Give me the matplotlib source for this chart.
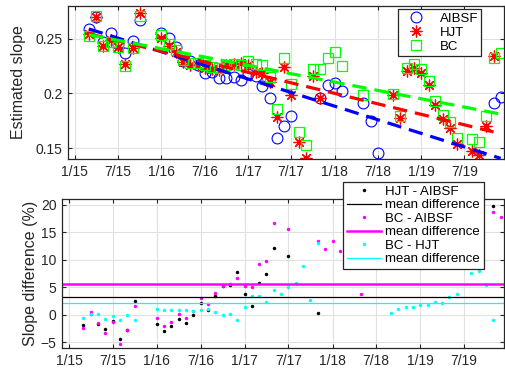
import matplotlib
matplotlib.use("Agg")
import matplotlib.pyplot as plt
import numpy as np
import pandas as pd
from matplotlib.lines import Line2D

plt.rcParams['font.family'] = ['Liberation Sans', 'DejaVu Sans']

# ---------------- data ----------------
aibsf_dates = ['2015-03', '2015-04', '2015-05', '2015-06', '2015-07', '2015-08', '2015-09', '2015-10',
               '2016-01', '2016-02', '2016-03', '2016-04', '2016-05', '2016-06', '2016-07', '2016-08',
               '2016-09', '2016-10', '2016-11', '2016-12', '2017-01', '2017-02', '2017-03', '2017-04',
               '2017-05', '2017-06', '2017-07', '2017-11', '2017-12', '2018-01', '2018-02', '2018-05',
               '2018-06', '2018-07', '2019-11', '2019-12']
aibsf_vals = [0.2590, 0.2695, 0.2470, 0.2552, 0.2455, 0.2370, 0.2480, 0.2668,
              0.2552, 0.2506, 0.2429, 0.2300, 0.2295, 0.2262, 0.2190, 0.2200,
              0.2145, 0.2145, 0.2150, 0.2120, 0.2180, 0.2161, 0.2072, 0.1962,
              0.1595, 0.1702, 0.1795, 0.1955, 0.2078, 0.2100, 0.2020, 0.1911,
              0.1750, 0.1451, 0.1916, 0.1971]

hjt_dates = ['2015-03', '2015-04', '2015-05', '2015-06', '2015-07', '2015-08', '2015-09', '2015-10',
             '2016-01', '2016-02', '2016-03', '2016-04', '2016-05', '2016-06', '2016-07', '2016-08',
             '2016-09', '2016-10', '2016-11', '2016-12', '2017-01', '2017-02', '2017-03', '2017-04',
             '2017-05', '2017-06', '2017-07', '2017-08', '2017-09', '2017-10', '2017-11',
             '2018-09', '2018-10', '2018-11', '2018-12', '2019-01', '2019-02', '2019-03', '2019-04',
             '2019-05', '2019-06', '2019-08', '2019-09', '2019-10', '2019-11']
hjt_vals = [0.2543, 0.2700, 0.2430, 0.2487, 0.2428, 0.2265, 0.2413, 0.2737,
            0.2509, 0.2433, 0.2378, 0.2285, 0.2262, 0.2261, 0.2237, 0.2221,
            0.2217, 0.2257, 0.2265, 0.2283, 0.2261, 0.2196, 0.2190, 0.2108,
            0.1788, 0.2240, 0.1987, 0.1555, 0.1408, 0.2157, 0.1961,
            0.1990, 0.1775, 0.2203, 0.2237, 0.2185, 0.2080, 0.1890, 0.1763,
            0.1683, 0.1535, 0.1470, 0.1436, 0.1702, 0.2340]

bc_dates = ['2015-03', '2015-04', '2015-05', '2015-06', '2015-07', '2015-08', '2015-09', '2015-10',
            '2016-01', '2016-02', '2016-03', '2016-04', '2016-05', '2016-06', '2016-07', '2016-08',
            '2016-09', '2016-10', '2016-11', '2016-12', '2017-01', '2017-02', '2017-03', '2017-04',
            '2017-05', '2017-06', '2017-07', '2017-08', '2017-09', '2017-10', '2017-11', '2017-12',
            '2018-01', '2018-02', '2018-05', '2018-09', '2018-10', '2018-11', '2018-12', '2019-01',
            '2019-02', '2019-03', '2019-04', '2019-05', '2019-06', '2019-08', '2019-09', '2019-10',
            '2019-11', '2019-12']
bc_vals = [0.2528, 0.2708, 0.2433, 0.2469, 0.2424, 0.2247, 0.2413, 0.2711,
           0.2537, 0.2454, 0.2398, 0.2304, 0.2282, 0.2277, 0.2257, 0.2245,
           0.2229, 0.2258, 0.2270, 0.2262, 0.2294, 0.2271, 0.2263, 0.2152,
           0.1860, 0.2328, 0.2085, 0.1645, 0.1530, 0.2222, 0.2222, 0.2328,
           0.2380, 0.2255, 0.1985, 0.1997, 0.1793, 0.2234, 0.2267, 0.2224,
           0.2117, 0.1933, 0.1801, 0.1739, 0.1593, 0.1582, 0.1551, 0.1794,
           0.2323, 0.2369]

# linear trend lines (start/end values over each series' date span)
trend_start = [0.2590, 0.2546, 0.2537]
trend_end = [0.1406, 0.1648, 0.1811]

# slope differences (%)
d_hjt_aibsf_dates = ['2015-03', '2015-04', '2015-05', '2015-06', '2015-07', '2015-08', '2015-09', '2015-10',
                     '2016-01', '2016-02', '2016-03', '2016-04', '2016-05', '2016-06', '2016-07', '2016-08',
                     '2016-09', '2016-10', '2016-11', '2016-12', '2017-01', '2017-02', '2017-03', '2017-04',
                     '2017-05', '2017-06', '2017-07', '2017-11', '2019-11']
d_hjt_aibsf = [-1.8, 0.2, -1.6, -2.5, -1.15, -4.35, -2.7, 2.6,
               -1.7, -2.9, -2.1, -0.67, -1.45, -0.05, 2.16, 0.95,
               3.36, 5.2, 5.35, 7.7, 3.72, 1.62, 5.7, 7.46,
               12.1, 31.6, 10.7, 0.3, 19.7]

d_bc_aibsf_dates = ['2015-03', '2015-04', '2015-05', '2015-06', '2015-07', '2015-08', '2015-09', '2015-10',
                    '2016-01', '2016-02', '2016-03', '2016-04', '2016-05', '2016-06', '2016-07', '2016-08',
                    '2016-09', '2016-10', '2016-11', '2016-12', '2017-01', '2017-02', '2017-03', '2017-04',
                    '2017-05', '2017-06', '2017-07', '2017-11', '2017-12', '2018-01', '2018-02', '2018-05',
                    '2019-11', '2019-12']
d_bc_aibsf = [-2.4, 0.47, -1.5, -3.25, -1.27, -5.2, -2.7, 1.62,
              -0.6, -2.06, -1.27, 0.18, -0.55, 0.66, 3.06, 2.03,
              3.9, 5.29, 5.6, 6.68, 5.23, 5.1, 9.2, 9.68,
              16.6, 36.8, 15.5, 13.3, 12.0, 13.4, 11.6, 3.85,
              18.7, 17.8]

d_bc_hjt_dates = ['2015-03', '2015-04', '2015-05', '2015-06', '2015-07', '2015-08', '2015-09', '2015-10',
                  '2016-01', '2016-02', '2016-03', '2016-04', '2016-05', '2016-06', '2016-07', '2016-08',
                  '2016-09', '2016-10', '2016-11', '2016-12', '2017-01', '2017-02', '2017-03', '2017-04',
                  '2017-05', '2017-06', '2017-07', '2017-08', '2017-09', '2017-10', '2017-11',
                  '2018-09', '2018-10', '2018-11', '2018-12', '2019-01', '2019-02', '2019-03', '2019-04',
                  '2019-05', '2019-06', '2019-08', '2019-09', '2019-10', '2019-11']
d_bc_hjt = [-0.5, 0.23, 0.18, -0.73, -0.13, -0.85, 0.0, -0.9,
            1.14, 0.84, 0.9, 0.84, 0.9, 0.66, 0.84, 1.08,
            0.54, 0.05, 0.23, -0.9, 1.37, 3.5, 3.5, 2.27,
            4.57, 3.79, 5.0, 5.7, 8.77, 2.7, 13.0,
            0.36, 1.0, 1.4, 1.35, 1.8, 1.8, 2.27, 2.17,
            3.3, 3.75, 7.6, 8.0, 5.4, -0.97]

mean_diff = [3.19, 5.54, 2.11]

tick_dates = ['2015-01', '2015-07', '2016-01', '2016-07', '2017-01', '2017-07',
              '2018-01', '2018-07', '2019-01', '2019-07']
tick_labels = ['1/15', '7/15', '1/16', '7/16', '1/17', '7/17', '1/18', '7/18', '1/19', '7/19']
xlim = ['2014-12-03', '2019-12-15']

# ---------------- plotting ----------------
def D(lst):
    return pd.to_datetime(lst)

W, H = 505, 369
fig = plt.figure(figsize=(W / 100, H / 100), dpi=100)
ax1 = fig.add_axes([68 / W, 1 - 159 / H, (504 - 68) / W, (159 - 6) / H])
ax2 = fig.add_axes([62 / W, 1 - 348 / H, (504 - 62) / W, (348 - 199) / H])

BLUE, RED, GREEN = (0, 0, 1), (1, 0, 0), (0, 1, 0)
dark = (0.15, 0.15, 0.15)

for ax in (ax1, ax2):
    ax.set_xlim(D(xlim))
    ax.set_xticks(D(tick_dates))
    ax.set_xticklabels(tick_labels)
    ax.grid(True, color=(0.88, 0.88, 0.88), lw=0.8)
    ax.set_axisbelow(True)
    ax.tick_params(direction='in', top=True, right=True, length=3, width=0.8,
                   labelsize=10, colors=dark, pad=4)
    for s in ax.spines.values():
        s.set_color(dark)
        s.set_linewidth(0.9)

# top
ax1.plot(D(aibsf_dates), aibsf_vals, 'o', ms=7.8, mfc='none', mec=BLUE, mew=0.8, label='AIBSF')
ax1.plot(D(hjt_dates), hjt_vals, ls='none', marker=(8, 2, 0), ms=8.5, mec=RED, mew=0.9, label='HJT')
ax1.plot(D(bc_dates), bc_vals, 's', ms=6.8, mfc='none', mec=GREEN, mew=0.9, label='BC')
series_dates = [aibsf_dates, hjt_dates, bc_dates]
for i, c in enumerate([BLUE, RED, GREEN]):
    d = D([series_dates[i][0], series_dates[i][-1]])
    ax1.plot(d, [trend_start[i], trend_end[i]], color=c, lw=2.3, ls=(0, (4.5, 2.5)), zorder=3)
ax1.set_ylim(0.14, 0.28)
ax1.set_yticks([0.15, 0.2, 0.25])
ax1.set_yticklabels(['0.15', '0.2', '0.25'])
ax1.set_ylabel('Estimated slope', fontsize=11.5, color=dark, labelpad=7)
leg1 = ax1.legend(loc='upper left', bbox_to_anchor=(398 / W, 1 - 9 / H), bbox_transform=fig.transFigure,
                  fontsize=9.5, frameon=True, fancybox=False, edgecolor=dark, framealpha=1,
                  borderpad=0.25, labelspacing=0.15, handlelength=2.3, handletextpad=0.6,
                  borderaxespad=0)
leg1.get_frame().set_linewidth(0.9)

# bottom
ax2.plot(D(d_hjt_aibsf_dates), d_hjt_aibsf, '.', color='k', ms=5, mew=0)
ax2.plot(D(d_bc_aibsf_dates), d_bc_aibsf, '.', color=(1, 0, 1), ms=5, mew=0)
ax2.plot(D(d_bc_hjt_dates), d_bc_hjt, '.', color=(0, 1, 1), ms=5, mew=0)
ax2.axhline(mean_diff[0], color='k', lw=0.9)
ax2.axhline(mean_diff[1], color=(1, 0, 1), lw=1.8)
ax2.axhline(mean_diff[2], color=(0, 1, 1), lw=0.9)
ax2.set_ylim(-6, 21)
ax2.set_yticks([-5, 0, 5, 10, 15, 20])
ax2.set_ylabel('Slope difference (%)', fontsize=11.5, color=dark, labelpad=2)

handles = [Line2D([], [], ls='none', marker='.', color='k', ms=5, mew=0),
           Line2D([], [], color='k', lw=0.9),
           Line2D([], [], ls='none', marker='.', color=(1, 0, 1), ms=5, mew=0),
           Line2D([], [], color=(1, 0, 1), lw=1.8),
           Line2D([], [], ls='none', marker='.', color=(0, 1, 1), ms=5, mew=0),
           Line2D([], [], color=(0, 1, 1), lw=0.9)]
labels = ['HJT - AIBSF', 'mean difference', 'BC - AIBSF', 'mean difference', 'BC - HJT', 'mean difference']
leg2 = ax2.legend(handles, labels, loc='upper left', bbox_to_anchor=(343 / W, 1 - 181.5 / H),
                  bbox_transform=fig.transFigure, fontsize=9.5, frameon=True, fancybox=False,
                  edgecolor=dark, framealpha=1, borderpad=0.3, labelspacing=0.1,
                  handlelength=2.6, handletextpad=0.3, borderaxespad=0)
leg2.get_frame().set_linewidth(0.9)
leg2.set_zorder(10)

fig.savefig('out.png', dpi=100)
